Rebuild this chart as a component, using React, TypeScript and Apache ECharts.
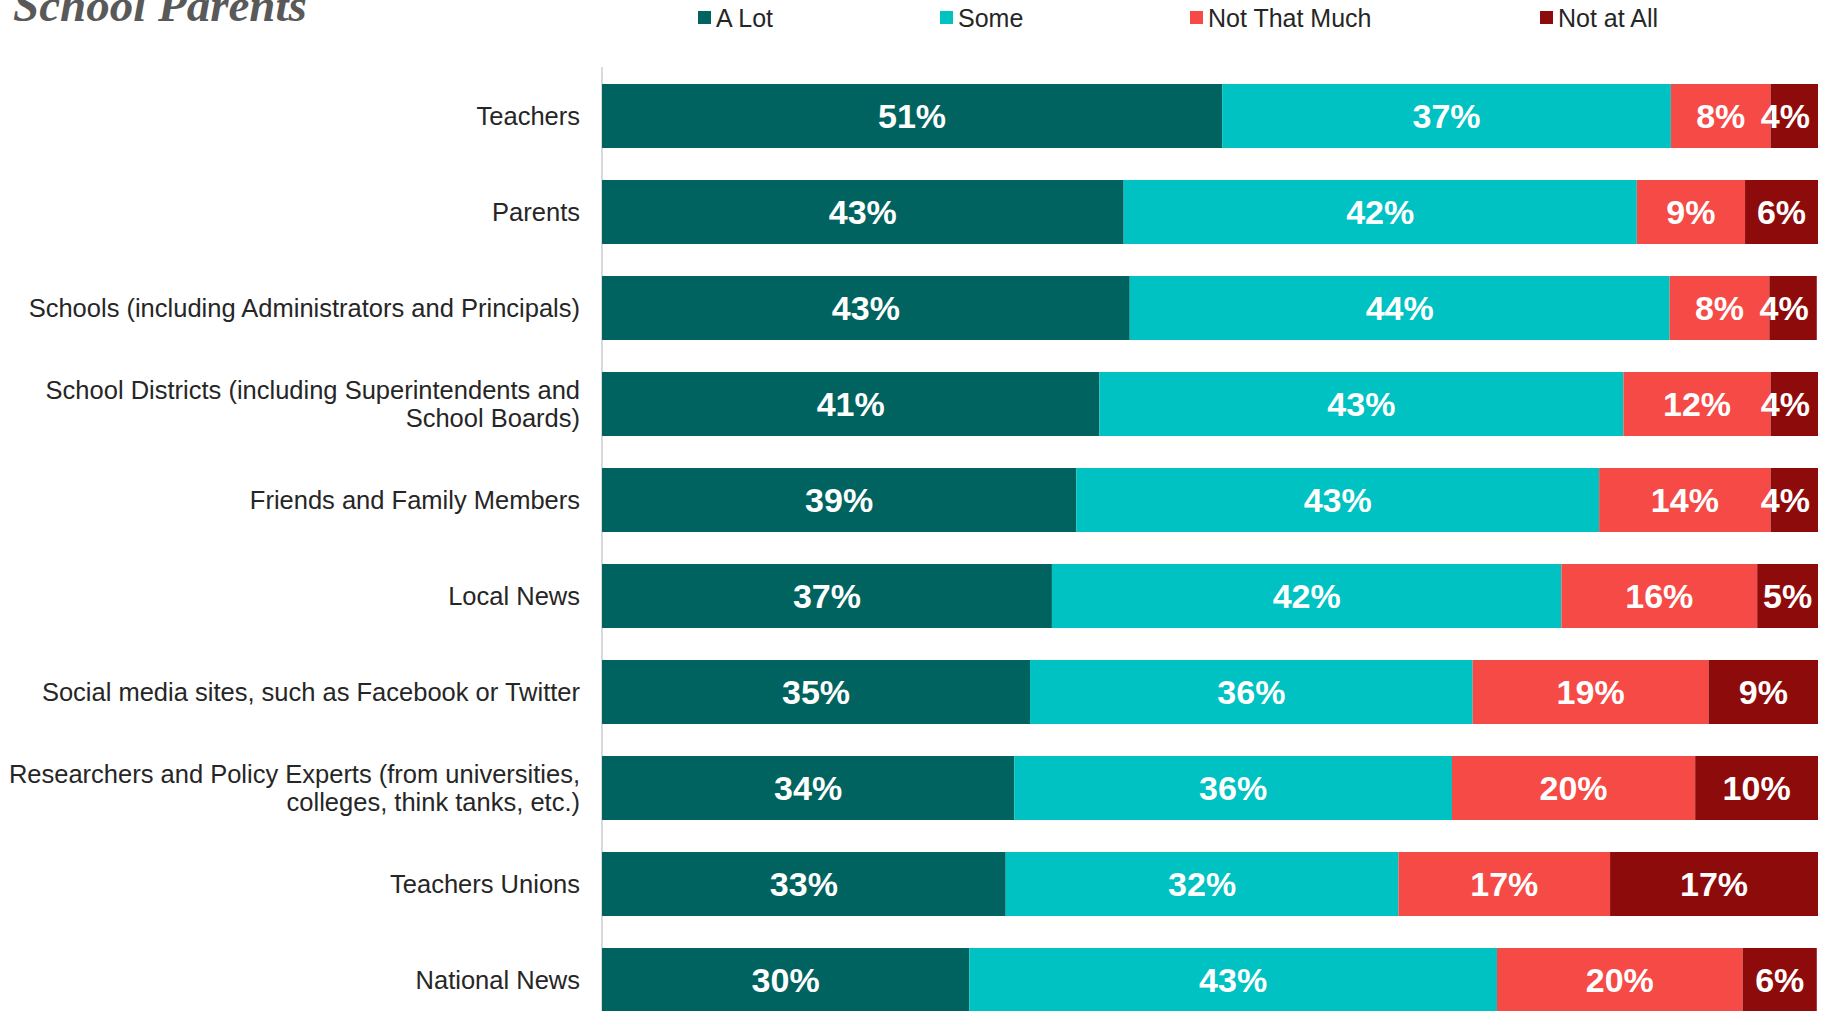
import React, { useEffect, useRef } from "react";
import * as echarts from "echarts";

const categories: string[] = [
  "Teachers",
  "Parents",
  "Schools (including Administrators and Principals)",
  "School Districts (including Superintendents and\nSchool Boards)",
  "Friends and Family Members",
  "Local News",
  "Social media sites, such as Facebook or Twitter",
  "Researchers and Policy Experts (from universities,\ncolleges, think tanks, etc.)",
  "Teachers Unions",
  "National News",
];

const aLot: number[] = [51.0, 42.9, 43.4, 40.9, 39.0, 37.0, 35.2, 33.9, 33.2, 30.2];
const some: number[] = [36.9, 42.2, 44.4, 43.1, 43.0, 41.9, 36.4, 36.0, 32.3, 43.4];
const notThatMuch: number[] = [8.2, 8.9, 8.2, 12.1, 14.1, 16.1, 19.4, 20.0, 17.4, 20.2];
const notAtAll: number[] = [3.9, 6.0, 3.9, 3.9, 3.9, 5.0, 9.0, 10.1, 17.1, 6.1];

const seriesNames: string[] = ["A Lot", "Some", "Not That Much", "Not at All"];
const seriesColors: string[] = ["#00635F", "#00C2C2", "#F64A46", "#8E0B0B"];
const legendLefts: number[] = [698, 940, 1190, 1540];

const titleText = "School Parents";

export default function App() {
  const ref = useRef<HTMLDivElement>(null);

  useEffect(() => {
    if (!ref.current) return;
    const chart = echarts.init(ref.current, undefined, { renderer: "svg" });
    const values = [aLot, some, notThatMuch, notAtAll];
    const sans = "Liberation Sans, Arial, sans-serif";

    chart.setOption({
      animation: false,
      backgroundColor: "#ffffff",
      title: {
        text: titleText,
        left: 8,
        top: -24,
        textStyle: {
          fontFamily: "Liberation Serif, Times New Roman, serif",
          fontStyle: "italic",
          fontWeight: "bold",
          fontSize: 47,
          color: "#595959",
        },
      },
      legend: seriesNames.map((name, i) => ({
        data: [name],
        left: legendLefts[i],
        top: 5,
        padding: 0,
        itemWidth: 13,
        itemHeight: 13,
        itemGap: 0,
        icon: "rect",
        textStyle: { fontFamily: sans, fontSize: 25, color: "#262626" },
      })),
      grid: { left: 602, right: 7, top: 68, bottom: 12, containLabel: false },
      xAxis: { type: "value", min: 0, max: 100, show: false },
      yAxis: {
        type: "category",
        data: categories,
        inverse: true,
        axisLine: { show: true, lineStyle: { color: "#D9D9D9", width: 2 } },
        axisTick: { show: false },
        axisLabel: {
          fontFamily: sans,
          fontSize: 25.5,
          color: "#262626",
          margin: 22,
          lineHeight: 28,
          align: "right",
        },
        splitLine: { show: false },
      },
      series: seriesNames.map((name, i) => ({
        name,
        type: "bar",
        stack: "total",
        barWidth: 64,
        data: values[i].map((v) =>
          i === 3 && v < 5 ? { value: v, label: { offset: [-9, 0] } } : v
        ),
        itemStyle: { color: seriesColors[i] },
        label: {
          show: true,
          position: "inside",
          color: "#ffffff",
          fontFamily: sans,
          fontWeight: "bold",
          fontSize: 34,
          formatter: (p: any) => Math.round(p.value) + "%",
        },
      })),
    });

    return () => chart.dispose();
  }, []);

  return (
    <div style={{ position: "fixed", left: 0, top: 0, width: 1825, height: 1011, overflow: "hidden" }}>
      <div ref={ref} style={{ width: 1825, height: 1040 }} />
    </div>
  );
}
